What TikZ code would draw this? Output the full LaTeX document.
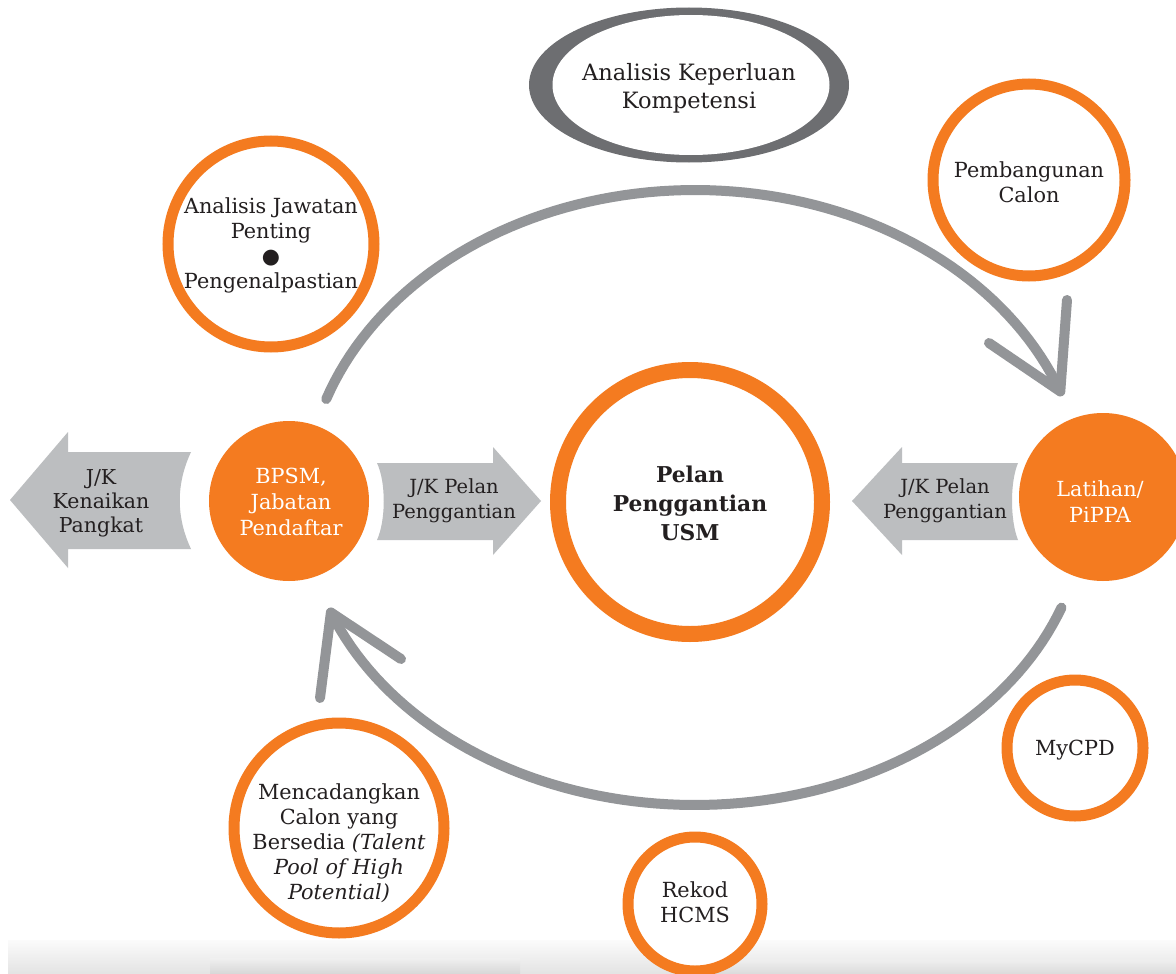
\documentclass[tikz,border=0pt]{standalone}
\usepackage{fontspec}
\setmainfont{DejaVu Serif}
\newfontfamily\symf{DejaVu Sans}
\usetikzlibrary{shapes.geometric}
\definecolor{orng}{HTML}{F47B20}
\definecolor{arcgray}{HTML}{939598}
\definecolor{boxgray}{HTML}{BCBEC0}
\definecolor{ringgray}{HTML}{6D6E71}
\definecolor{ink}{HTML}{231F20}
\begin{document}
\begin{tikzpicture}[x=1pt,y=-1pt,
  ring/.style={circle, draw=orng, fill=white, line width=11pt, inner sep=0pt},
  bigring/.style={circle, draw=orng, fill=white, line width=16pt, inner sep=0pt},
  disc/.style={circle, fill=orng, inner sep=0pt},
  txt/.style={align=center, text=ink, inner sep=0pt, font=\fontsize{20.8}{25}\selectfont},
  wtxt/.style={align=center, text=white, inner sep=0pt, font=\fontsize{20.8}{26}\selectfont},
  atxt/.style={align=center, text=ink, inner sep=0pt, font=\fontsize{19.5}{24.5}\selectfont},
  cyc/.style={draw=arcgray, line width=10pt, line cap=round, line join=round},
  gshape/.style={fill=boxgray}]
\useasboundingbox (0,0) rectangle (1176,974);
\fill[white] (0,0) rectangle (1176,974);

% scanned strip at the bottom
\shade[top color=gray!3, bottom color=gray!22] (8,940) rectangle (1176,974);
\shade[top color=gray!10, bottom color=gray!40, opacity=.5] (210,958) rectangle (520,974);
\shade[top color=gray!10, bottom color=gray!40, opacity=.35] (700,960) rectangle (1176,974);

% cycle arcs
\draw[cyc] plot[domain=161:20.5, samples=80] ({695+390*cos(\x)},{500-310*sin(\x)});
\coordinate (tipT) at ({695+390*cos(20.5)},{500-310*sin(20.5)});
\coordinate (hT1) at (1067,300);
\coordinate (hT2) at (989,343);
\draw[cyc] (hT1) -- (tipT) -- (hT2);

\draw[cyc] plot[domain=-20:-159, samples=80] ({695+390*cos(\x)},{505-300*sin(\x)});
\coordinate (tipB) at ({695+390*cos(-159)},{505-300*sin(-159)});
\coordinate (hB1) at (320,698);
\coordinate (hB2) at (401,659);
\draw[cyc] (hB1) -- (tipB) -- (hB2);

% grey ellipse
\node[ellipse, fill=ringgray, minimum width=320pt, minimum height=155pt, inner sep=0pt] (akout) at (689,85) {};
\node[ellipse, fill=white, minimum width=277pt, minimum height=140pt, inner sep=0pt] (akin) at (691,85) {};
\node[align=center, text=ink, inner sep=0pt, font=\fontsize{22.5}{28}\selectfont] (ak) at (689,88) {Analisis Keperluan\\Kompetensi};

% rings
\node[ring, minimum size=206pt] (ajp) at (271,244) {};
\node[txt] (ajpt) at (271,245) {Analisis Jawatan\\Penting\\{\symf ●}\\Pengenalpastian};

\node[ring, minimum size=192pt] (pc) at (1029,180) {};
\node[txt] (pct) at (1029,182) {Pembangunan\\Calon};

\node[bigring, minimum size=264pt] (usm) at (690,502) {};
\node[align=center, text=ink, inner sep=0pt, font=\bfseries\fontsize{21.8}{29}\selectfont] (usmt) at (690,503) {Pelan\\Penggantian\\USM};

\node[ring, minimum size=136pt] (cpd) at (1075,748) {};
\node[txt] (cpdt) at (1075,750) {MyCPD};

\node[ring, minimum size=134pt] (hcms) at (695,904) {};
\node[txt] (hcmst) at (695,902) {Rekod\\HCMS};

\node[ring, minimum size=210pt] (mc) at (339,828) {};
\node[txt] (mct) at (339,843) {Mencadangkan\\Calon yang\\Bersedia \textit{(Talent}\\\textit{Pool of High}\\\textit{Potential)}};

% orange discs
\node[disc, minimum size=160pt] (bpsm) at (289,501) {};
\node[wtxt] (bpsmt) at (291,502) {BPSM,\\Jabatan\\Pendaftar};

\node[disc, minimum size=168pt] (lat) at (1103,497) {};
\node[wtxt] (latt) at (1100,502) {Latihan/\\PiPPA};

% grey block arrows
\fill[gshape] (10,500) -- (68,432) -- (68,452) -- (191,452)
  .. controls (176,484) and (176,517) .. (191,549) -- (68,549) -- (68,568) -- cycle;
\node[atxt, font=\fontsize{20.5}{24}\selectfont] (kp) at (101,503) {J/K\\Kenaikan\\Pangkat};

\fill[gshape] (377,463) -- (493,463) -- (493,447) -- (541,501) -- (493,555) -- (493,540) -- (377,540)
  .. controls (386,520) and (386,482) .. (377,463) -- cycle;
\node[atxt] (pp1) at (454,501) {J/K Pelan\\Penggantian};

\fill[gshape] (852,501) -- (902,447) -- (902,463) -- (1018,463)
  .. controls (1010,482) and (1010,520) .. (1018,540) -- (902,540) -- (902,555) -- cycle;
\node[atxt] (pp2) at (945,501) {J/K Pelan\\Penggantian};
\end{tikzpicture}
\end{document}
